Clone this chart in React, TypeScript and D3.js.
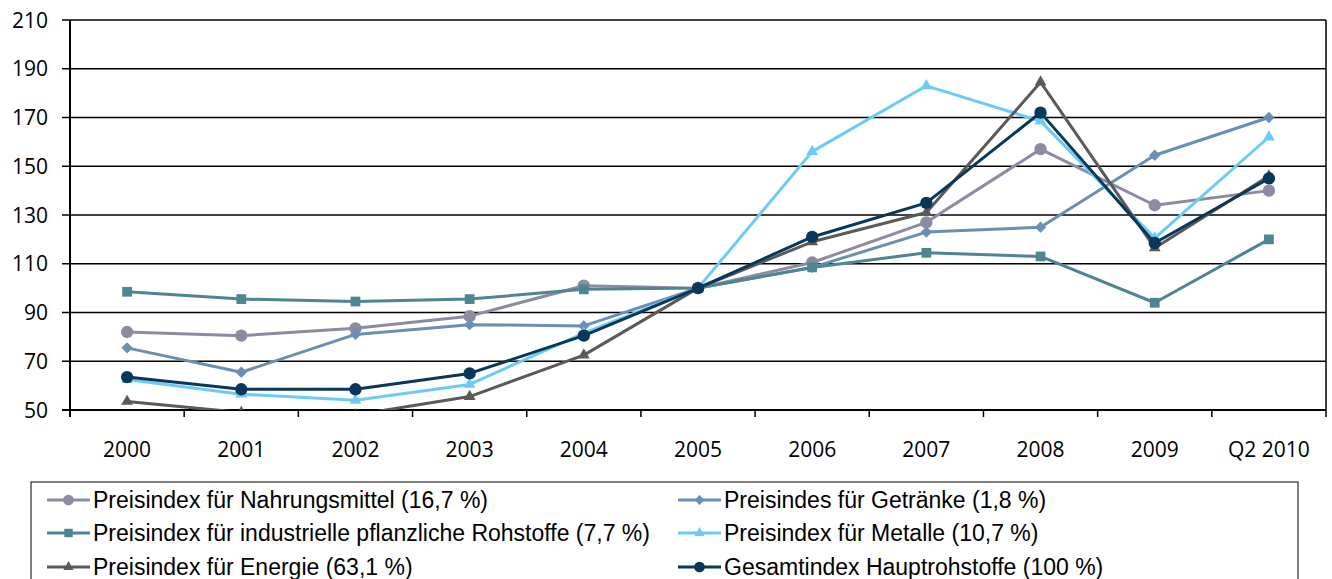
// @ts-nocheck
import * as d3 from 'd3';
import React, { useEffect, useRef } from 'react';

const categories = ['2000', '2001', '2002', '2003', '2004', '2005', '2006', '2007', '2008', '2009', 'Q2 2010'];
const yTicks = [50, 70, 90, 110, 130, 150, 170, 190, 210];

const nahrung = [82, 80.5, 83.5, 88.5, 101, 100, 110.5, 127, 157, 134, 140];
const getraenke = [75.5, 65.5, 81, 85, 84.5, 100, 108.5, 123, 125, 154.5, 170];
const industrie = [98.5, 95.5, 94.5, 95.5, 99.5, 100, 108.5, 114.5, 113, 94, 120];
const metalle = [62.5, 56.5, 54, 60.5, 81.5, 100, 156, 183, 168.5, 120.5, 162];
const energie = [53.5, 49, 48, 55.5, 72.5, 100, 119, 131, 184.5, 116.5, 146];
const gesamt = [63.5, 58.5, 58.5, 65, 80.5, 100, 121, 135, 172, 118.5, 145];

const series = [
  { label: 'Preisindex für Nahrungsmittel (16,7 %)', values: nahrung, color: '#8d8ba1', marker: 'circle' },
  { label: 'Preisindes für Getränke (1,8 %)', values: getraenke, color: '#6a8eb4', marker: 'diamond' },
  { label: 'Preisindex für industrielle pflanzliche Rohstoffe (7,7 %)', values: industrie, color: '#4e8591', marker: 'square' },
  { label: 'Preisindex für Metalle (10,7 %)', values: metalle, color: '#6ccbf6', marker: 'triangle' },
  { label: 'Preisindex für Energie (63,1 %)', values: energie, color: '#5a5a5a', marker: 'triangle' },
  { label: 'Gesamtindex Hauptrohstoffe (100 %)', values: gesamt, color: '#08375a', marker: 'circle' },
];

const W = 1332;
const H = 579;

function markerPath(type: string, scale = 1) {
  switch (type) {
    case 'circle':
      return d3.symbol(d3.symbolCircle, 120 * scale)();
    case 'square':
      return d3.symbol(d3.symbolSquare, 95 * scale)();
    case 'triangle':
      return d3.symbol(d3.symbolTriangle, 60 * scale)();
    case 'diamond':
    default:
      return d3.symbol(d3.symbolSquare, 64 * scale)();
  }
}

export default function App() {
  const svgRef = useRef<SVGSVGElement>(null);

  useEffect(() => {
    if (!svgRef.current) return;
    const svg = d3.select(svgRef.current);
    svg.selectAll('*').remove();

    const plot = { left: 70, right: 1326, top: 20, bottom: 410 };

    const x = d3.scaleBand().domain(categories).range([plot.left, plot.right]);
    const y = d3.scaleLinear().domain([50, 210]).range([plot.bottom, plot.top]);

    svg.append('rect').attr('width', W).attr('height', H).attr('fill', '#ffffff');

    svg
      .append('defs')
      .append('clipPath')
      .attr('id', 'plot-clip')
      .append('rect')
      .attr('x', plot.left)
      .attr('y', plot.top - 10)
      .attr('width', plot.right - plot.left + 10)
      .attr('height', plot.bottom - plot.top + 10);

    // gridlines + y ticks
    const grid = svg.append('g');
    yTicks.forEach(t => {
      grid
        .append('line')
        .attr('x1', plot.left - 8)
        .attr('x2', plot.right)
        .attr('y1', y(t))
        .attr('y2', y(t))
        .attr('stroke', '#000')
        .attr('stroke-width', t === 50 ? 2 : 1.5);
      grid
        .append('text')
        .attr('x', 48)
        .attr('y', y(t))
        .attr('dy', '0.36em')
        .attr('text-anchor', 'end')
        .style('font-family', '"Open Sans", sans-serif')
        .style('font-size', '21px')
        .style('fill', '#000')
        .text(t);
    });

    // right border
    svg
      .append('line')
      .attr('x1', plot.right)
      .attr('x2', plot.right)
      .attr('y1', plot.top)
      .attr('y2', plot.bottom)
      .attr('stroke', '#000')
      .attr('stroke-width', 1.5);

    // y axis
    svg
      .append('line')
      .attr('x1', plot.left)
      .attr('x2', plot.left)
      .attr('y1', plot.top)
      .attr('y2', plot.bottom + 7)
      .attr('stroke', '#000')
      .attr('stroke-width', 2);

    // x ticks + labels
    categories.forEach((c, i) => {
      const bx = x(c) + x.bandwidth();
      svg
        .append('line')
        .attr('x1', bx)
        .attr('x2', bx)
        .attr('y1', plot.bottom)
        .attr('y2', plot.bottom + 7)
        .attr('stroke', '#000')
        .attr('stroke-width', 1.5);
      svg
        .append('text')
        .attr('x', x(c) + x.bandwidth() / 2)
        .attr('y', 449)
        .attr('dy', '0.36em')
        .attr('text-anchor', 'middle')
        .style('font-family', '"Open Sans", sans-serif')
        .style('font-size', '21px')
        .style('fill', '#000')
        .text(c);
    });

    // series
    const cx = (i: number) => x(categories[i]) + x.bandwidth() / 2;
    const line = d3
      .line<number>()
      .x((d, i) => cx(i))
      .y(d => y(d));

    const lines = svg.append('g').attr('clip-path', 'url(#plot-clip)');
    series.forEach(s => {
      const g = lines.append('g');
      g.append('path')
        .datum(s.values)
        .attr('fill', 'none')
        .attr('stroke', s.color)
        .attr('stroke-width', 3)
        .attr('stroke-linejoin', 'round')
        .attr('d', line);
      g.selectAll('path.marker')
        .data(s.values)
        .enter()
        .append('path')
        .attr('class', 'marker')
        .attr('d', markerPath(s.marker))
        .attr('transform', (d, i) => `translate(${cx(i)},${y(d)})${s.marker === 'diamond' ? ' rotate(45)' : ''}`)
        .attr('fill', s.color);
    });

    // legend
    const legend = svg.append('g');
    legend
      .append('rect')
      .attr('x', 31)
      .attr('y', 482)
      .attr('width', 1298 - 31)
      .attr('height', 120)
      .attr('fill', '#fff')
      .attr('stroke', '#000')
      .attr('stroke-width', 1);

    const cols = [47, 678];
    const rows = [500, 533, 567];
    series.forEach((s, i) => {
      const lx = cols[i % 2];
      const ly = rows[Math.floor(i / 2)];
      legend
        .append('line')
        .attr('x1', lx)
        .attr('x2', lx + 43)
        .attr('y1', ly)
        .attr('y2', ly)
        .attr('stroke', s.color)
        .attr('stroke-width', 3);
      legend
        .append('path')
        .attr('d', markerPath(s.marker, 0.75))
        .attr('transform', `translate(${lx + 21.5},${ly})${s.marker === 'diamond' ? ' rotate(45)' : ''}`)
        .attr('fill', s.color);
      legend
        .append('text')
        .attr('x', lx + 46)
        .attr('y', ly)
        .attr('dy', '0.36em')
        .style('font-family', '"Liberation Sans Narrow", "Liberation Sans", sans-serif')
        .style('font-stretch', 'condensed')
        .style('font-size', '23px')
        .style('fill', '#000')
        .text(s.label);
    });
  }, []);

  return (
    <svg
      ref={svgRef}
      width={W}
      height={H}
      style={{ position: 'absolute', left: 0, top: 0, display: 'block' }}
    />
  );
}
